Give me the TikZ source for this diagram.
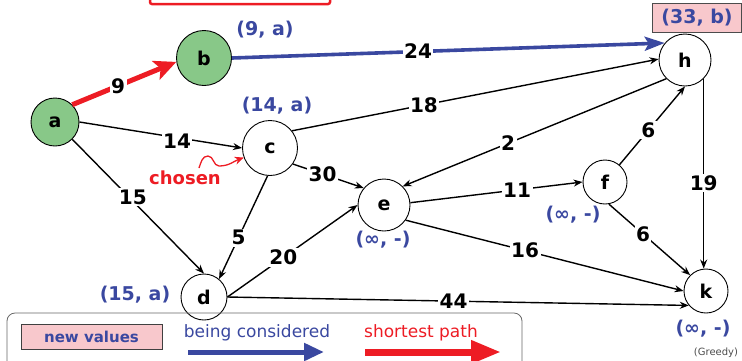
\documentclass[tikz,border=0pt]{standalone}
\usepackage{fontspec}
\setmainfont{DejaVu Sans}
\usetikzlibrary{arrows.meta,calc}
\definecolor{vgreen}{RGB}{136,200,136}
\definecolor{vblue}{RGB}{58,72,160}
\definecolor{vred}{RGB}{237,28,36}
\definecolor{vpink}{RGB}{248,200,204}
\newcommand{\fs}[1]{\fontsize{#1}{#1}\selectfont}
\begin{document}
\begin{tikzpicture}[x=1pt,y=-1pt,
  vertex/.style={circle,draw=black,line width=0.9pt,inner sep=0pt,fill=white,
    font=\bfseries\fs{19}},
  donev/.style={vertex,fill=vgreen},
  edge/.style={line width=1.4pt,-{Stealth[length=9pt,width=7pt]}},
  wt/.style={fill=white,inner sep=1.5pt,font=\bfseries\fs{20}},
  est/.style={text=vblue,font=\bfseries\fs{19}},
  bestpath/.style={vred,line width=5pt,-{Stealth[length=22pt,width=20pt,inset=5pt]}},
  trying/.style={vblue,line width=3.6pt,-{Stealth[length=20pt,width=14pt,inset=4pt]}},
]
\useasboundingbox (0,0) rectangle (742,360);
\clip (0,0) rectangle (742,360);

% heading box, mostly above the frame
\draw[vred,line width=2.5pt,rounded corners=2pt] (150,-40) rectangle (330,4);

% vertices
\node[donev,minimum size=48pt] (a) at (55,122) {a};
\node[donev,minimum size=55pt] (b) at (204,58) {b};
\node[vertex,minimum size=55pt] (c) at (270,148) {c};
\node[vertex,minimum size=46pt] (d) at (204,297) {d};
\node[vertex,minimum size=52pt] (e) at (384,205) {e};
\node[vertex,minimum size=44pt] (f) at (605,182) {f};
\node[vertex,minimum size=52pt] (h) at (685,60) {h};
\node[vertex,minimum size=44pt] (k) at (706,291) {k};

% edges
\draw[edge] (a.east) -- node[wt,pos=0.6,yshift=-4pt]{14} (c.west);
\draw[edge] (a.-45) -- node[wt,pos=0.46,yshift=4pt]{15} (d.north);
\draw[edge] (c.38) -- node[wt,pos=0.36]{18} (h.178);
\draw[edge] (c.-35) -- node[wt,pos=0.42]{30} (e.140);
\draw[edge] (c.-95) -- node[wt,pos=0.6]{5} (d.50);
\draw[edge] (d.east) -- node[wt,pos=0.43]{20} (e.west);
\draw[edge] (h.225) -- node[wt,pos=0.6]{2} (e.45);
\draw[edge] (e.5) -- node[wt,pos=0.62]{11} (f.west);
\draw[edge] (f.50) -- node[wt,pos=0.44]{6} (h.south);
\draw[edge] (f.-80) -- node[wt,pos=0.42]{6} (k.135);
\draw[edge] (h.south east) -- node[wt,pos=0.55]{19} (h.south east |- k.north);
\draw[edge] (e.-35) -- node[wt,pos=0.43]{16} (k.west);
\draw[edge] (d.east) -- node[wt,pos=0.49]{44} (k.220);

\draw[bestpath] (a.45) -- node[wt,pos=0.44,text=black]{9} (b.188);
\draw[trying] (b.east) -- node[wt,pos=0.43,text=black]{24} (h.140);

% distance estimates
\node[est] (la) at (265,30) {(9, a)};
\node[est] (lc) at (277,106) {(14, a)};
\node[est,fill=vpink,draw=black!70,line width=0.8pt,inner sep=2pt,
      minimum width=89pt,minimum height=29pt] (lh) at (697,18) {(33, b)};
\node[est] (ld) at (135,295) {(15, a)};
\node[est] (le) at (383,240) {(∞, -)};
\node[est] (lf) at (573,215) {(∞, -)};
\node[est] (lk) at (703,329) {(∞, -)};

% chosen marker
\node[text=vred,font=\bfseries\fs{18}] (ch) at (185,178) {chosen};
\coordinate (w1) at (208,156);
\coordinate (w2) at (219,166);
\draw[vred,line width=1.3pt,-{Stealth[length=9pt,width=8pt]}]
  (199,168) to[out=70,in=180] (w1) to[out=0,in=180] (w2)
  to[out=0,in=200] (c.200);

% legend
\draw[rounded corners=8pt,draw=black!60,line width=0.8pt] (7,313) rectangle (522,390);
\node[fill=vpink,draw=black!75,line width=0.8pt,minimum width=141pt,minimum height=25pt,
      inner sep=0pt,text=vblue,font=\bfseries\fs{15}] (nv) at (91.5,336.5) {new values};
\node[text=vblue,font=\fs{17}] (bc) at (257,333) {being considered};
\coordinate (bc1) at (188,352);
\coordinate (bc2) at (324,352);
\draw[vblue,line width=5pt,-{Triangle[length=20pt,width=17pt]}] (bc1) -- (bc2);
\node[text=vred,font=\fs{17}] (sp) at (421,333) {shortest path};
\coordinate (sp1) at (365,352);
\coordinate (sp2) at (501,352);
\draw[vred,line width=7pt,-{Triangle[length=30pt,width=22pt]}] (sp1) -- (sp2);

\node[text=black!70,font=\fs{10}] (gr) at (716,353) {(Greedy)};
\end{tikzpicture}
\end{document}
